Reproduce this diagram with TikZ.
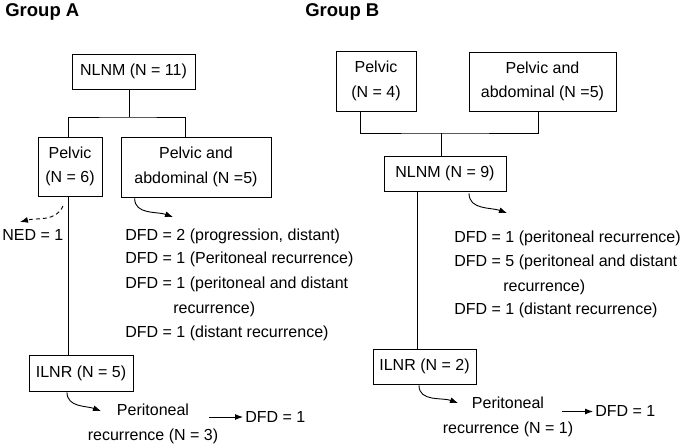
\documentclass[tikz,border=0pt]{standalone}
\usepackage{fontspec}
\setmainfont{Liberation Sans}
\usetikzlibrary{positioning,arrows.meta}
\tikzset{
  box/.style={draw, line width=0.7pt, align=center, inner sep=0pt},
  txt/.style={anchor=base west, inner sep=0pt},
  curvearrow/.style={-{Latex[length=8pt,width=6pt]}, line width=0.9pt},
}
\begin{document}
\begin{tikzpicture}[>={Latex[length=8pt,width=6pt]}, x=1pt, y=-1pt, font=\fontsize{16}{24.5}\selectfont, line width=0.7pt]
\useasboundingbox (0,0) rectangle (685,444);

% titles
\node[anchor=base west, inner sep=0pt, font=\fontsize{18.5}{20}\selectfont\bfseries] (titA) at (5,17) {Group A};
\node[anchor=base west, inner sep=0pt, font=\fontsize{18.5}{20}\selectfont\bfseries] (titB) at (305,17) {Group B};

% Group A
\node[box, minimum width=123pt, minimum height=35pt] (nlnmA) at (133.5,71.5) {NLNM (N = 11)};
\node[box, minimum width=64pt, minimum height=59pt] (pelA) at (70,166.5) {Pelvic\\(N = 6)};
\node[box, minimum width=150pt, minimum height=60pt] (paA) at (196,167) {Pelvic and\\abdominal (N =5)};
\node[box, minimum width=104pt, minimum height=36pt] (ilnrA) at (81,373) {ILNR (N = 5)};

\coordinate (jA) at (129,117);
\draw (nlnmA.south -| jA) -- (jA);
\draw (pelA.north -| 68,0) |- (jA) -| (paA.north -| 185,0);
\draw (pelA.south -| 68,0) -- (ilnrA.north -| 68,0);

\node[txt] (nedA) at (2,240) {NED = 1};
\node[txt] (dfdA1) at (125,240) {DFD = 2 (progression, distant)};
\node[txt] (dfdA2) at (125,263) {DFD = 1 (Peritoneal recurrence)};
\node[txt] (dfdA3) at (125,288) {DFD = 1 (peritoneal and distant};
\node[txt] (dfdA4) at (173,313) {recurrence)};
\node[txt] (dfdA5) at (125,337) {DFD = 1 (distant recurrence)};

\coordinate (nedEnd) at (20,222);
\coordinate (dfdEndA) at (173,217);
\coordinate (perEndA) at (101,411);
\draw[curvearrow, dash pattern=on 4pt off 3pt] (63,206) to[out=-115,in=15] (nedEnd);
\draw[curvearrow] ([xshift=14pt,yshift=-1pt]paA.south west) to[out=-90,in=160] (dfdEndA);
\draw[curvearrow] ([xshift=-14pt,yshift=-1pt]ilnrA.south) to[out=-90,in=160] (perEndA);

\node[align=center, inner sep=0pt] (perA) at (153,424) {Peritoneal\\recurrence (N = 3)};
\node[txt] (outA) at (245,422) {DFD = 1};
\draw[<-, line width=0.9pt] ([xshift=-2pt,yshift=5pt]outA.base west) -- ++(-34,0);

% Group B
\node[box, minimum width=80pt, minimum height=60pt] (pelB) at (376,81) {Pelvic\\(N = 4)};
\node[box, minimum width=147pt, minimum height=59pt] (paB) at (542.5,81.5) {Pelvic and\\abdominal (N =5)};
\node[box, minimum width=122pt, minimum height=35pt] (nlnmB) at (445,173.5) {NLNM (N = 9)};
\node[box, minimum width=103pt, minimum height=35pt] (ilnrB) at (424.5,366.5) {ILNR (N = 2)};

\coordinate (jB) at (441,133);
\draw (pelB.south -| 360,0) |- (jB) -| (paB.south -| 538,0);
\draw (jB) -- (nlnmB.north -| jB);
\draw (nlnmB.south -| 417,0) -- (ilnrB.north -| 417,0);

\node[txt] (dfdB1) at (454,242) {DFD = 1 (peritoneal recurrence)};
\node[txt] (dfdB2) at (454,266) {DFD = 5 (peritoneal and distant};
\node[txt] (dfdB3) at (503,291) {recurrence)};
\node[txt] (dfdB4) at (454,314) {DFD = 1 (distant recurrence)};

\coordinate (dfdEndB) at (507,213);
\coordinate (perEndB) at (458,403);
\draw[curvearrow] ([xshift=24pt,yshift=-2pt]nlnmB.south) to[out=-90,in=160] (dfdEndB);
\draw[curvearrow] ([xshift=-5.5pt,yshift=-1pt]ilnrB.south) to[out=-90,in=160] (perEndB);

\node[align=center, inner sep=0pt] (perB) at (508,417) {Peritoneal\\recurrence (N = 1)};
\node[txt] (outB) at (595,416) {DFD = 1};
\draw[<-, line width=0.9pt] ([xshift=-2pt,yshift=4.5pt]outB.base west) -- ++(-31,0);
\end{tikzpicture}
\end{document}
